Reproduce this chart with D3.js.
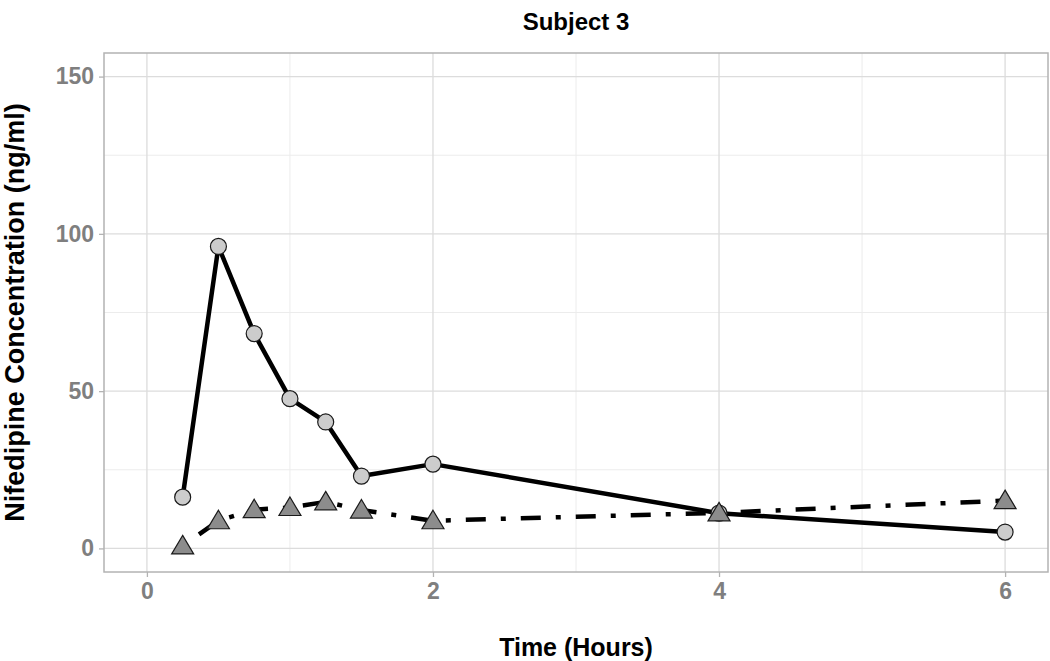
<!DOCTYPE html>
<html>
<head>
<meta charset="utf-8">
<script src="https://cdn.jsdelivr.net/npm/d3@7"></script>
<style>
  body { margin: 0; background: #fff; }
  text { font-family: "Liberation Sans", Arial, sans-serif; font-weight: bold; }
</style>
</head>
<body>
<div id="chart"></div>
<script>
// sampling times (hours)
const times = [0.25, 0.5, 0.75, 1, 1.25, 1.5, 2, 4, 6]
// concentration series (ng/ml)
const circleSeries = [16.3, 96, 68.3, 47.6, 40.2, 23, 26.8, 11.2, 5.2]
const triangleSeries = [0.8, 8.8, 12.3, 13, 14.8, 12.2, 8.8, 11.3, 15.2]
const xTicks = [0, 2, 4, 6]
const yTicks = [0, 50, 100, 150]
const xMinor = [1, 3, 5]
const yMinor = [25, 75, 125]

const W = 1050, H = 661
const panel = { left: 104, right: 1048, top: 53, bottom: 572 }

const svg = d3.select("#chart").append("svg")
    .attr("width", W).attr("height", H)

const x = d3.scaleLinear().domain([-0.3, 6.3]).range([panel.left, panel.right])
const y = d3.scaleLinear().domain([-7.5, 157.5]).range([panel.bottom, panel.top])

// grid
const grid = svg.append("g")
grid.selectAll(".vminor").data(xMinor).join("line")
    .attr("x1", d => x(d)).attr("x2", d => x(d))
    .attr("y1", panel.top).attr("y2", panel.bottom)
    .attr("stroke", "#ececec").attr("stroke-width", 1)
grid.selectAll(".hminor").data(yMinor).join("line")
    .attr("y1", d => y(d)).attr("y2", d => y(d))
    .attr("x1", panel.left).attr("x2", panel.right)
    .attr("stroke", "#ececec").attr("stroke-width", 1)
grid.selectAll(".vmajor").data(xTicks).join("line")
    .attr("x1", d => x(d)).attr("x2", d => x(d))
    .attr("y1", panel.top).attr("y2", panel.bottom)
    .attr("stroke", "#dcdcdc").attr("stroke-width", 1.3)
grid.selectAll(".hmajor").data(yTicks).join("line")
    .attr("y1", d => y(d)).attr("y2", d => y(d))
    .attr("x1", panel.left).attr("x2", panel.right)
    .attr("stroke", "#dcdcdc").attr("stroke-width", 1.3)

// axes
const xAxis = svg.append("g")
    .attr("transform", `translate(0,${panel.bottom})`)
    .call(d3.axisBottom(x).tickValues(xTicks).tickFormat(d3.format("d")).tickSize(5).tickPadding(6))
const yAxis = svg.append("g")
    .attr("transform", `translate(${panel.left},0)`)
    .call(d3.axisLeft(y).tickValues(yTicks).tickFormat(d3.format("d")).tickSize(5).tickPadding(5))
for (const ax of [xAxis, yAxis]) {
    ax.select(".domain").remove()
    ax.selectAll(".tick line").attr("stroke", "#b3b3b3").attr("stroke-width", 1.3)
    ax.selectAll(".tick text").attr("fill", "#7f7f7f").style("font-size", "23px")
        .style("font-family", "'Liberation Sans', Arial, sans-serif").style("font-weight", "bold")
}

// panel border
svg.append("rect")
    .attr("x", panel.left).attr("y", panel.top)
    .attr("width", panel.right - panel.left).attr("height", panel.bottom - panel.top)
    .attr("fill", "none").attr("stroke", "#b3b3b3").attr("stroke-width", 1.5)

const circleData = times.map((t, i) => ({ t: t, v: circleSeries[i] }))
const triData = times.map((t, i) => ({ t: t, v: triangleSeries[i] }))

const line = d3.line().x(d => x(d.t)).y(d => y(d.v))

svg.append("path").datum(circleData)
    .attr("d", line).attr("fill", "none")
    .attr("stroke", "#000").attr("stroke-width", 4.5)
    .attr("stroke-linejoin", "round")

svg.append("path").datum(triData)
    .attr("d", line).attr("fill", "none")
    .attr("stroke", "#000").attr("stroke-width", 4.5)
    .attr("stroke-dasharray", "5,15,20,15")

svg.selectAll(".circ").data(circleData).join("circle")
    .attr("cx", d => x(d.t)).attr("cy", d => y(d.v)).attr("r", 8)
    .attr("fill", "#cccccc").attr("stroke", "#1a1a1a").attr("stroke-width", 1.2)

svg.selectAll(".tri").data(triData).join("path")
    .attr("transform", d => `translate(${x(d.t)},${y(d.v)})`)
    .attr("d", "M0,-10.5 L11,8 L-11,8 Z")
    .attr("fill", "#8c8c8c").attr("stroke", "#1a1a1a").attr("stroke-width", 1.2)

// titles
svg.append("text")
    .attr("x", (panel.left + panel.right) / 2).attr("y", 30)
    .attr("text-anchor", "middle").style("font-size", "24px")
    .text("Subject 3")
svg.append("text")
    .attr("x", (panel.left + panel.right) / 2).attr("y", 656)
    .attr("text-anchor", "middle").style("font-size", "25px")
    .text("Time (Hours)")
svg.append("text")
    .attr("transform", `translate(24,${(panel.top + panel.bottom) / 2}) rotate(-90)`)
    .attr("text-anchor", "middle").style("font-size", "27px")
    .text("Nifedipine Concentration (ng/ml)")
</script>
</body>
</html>
